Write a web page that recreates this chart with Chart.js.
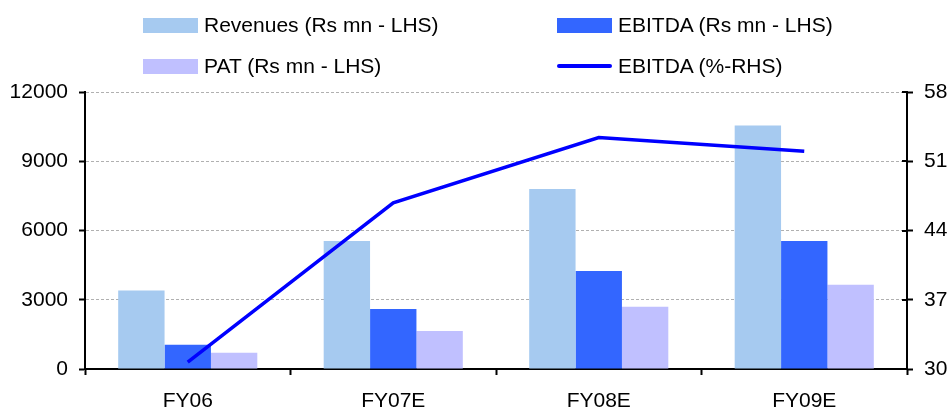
<!DOCTYPE html>
<html>
<head>
<meta charset="utf-8">
<script src="https://cdn.jsdelivr.net/npm/chart.js@4/dist/chart.umd.min.js"></script>
<style>
  html, body { margin: 0; padding: 0; background: #fff; }
  #wrap { position: relative; width: 949px; height: 410px; font-family: "Liberation Sans", Arial, sans-serif; }
  #c { position: absolute; left: 0; top: 0; }
  .lg { position: absolute; display: flex; align-items: center; height: 24px; font-size: 21px; color: #000; white-space: nowrap; }
  .lg .sw { width: 55px; margin-right: 6px; }
</style>
</head>
<body>
<div id="wrap">
  <canvas id="c" width="949" height="410"></canvas>
  <div id="legend"></div>
</div>
<script>
// Financial summary, FY06 to FY09E
const categories = ['FY06', 'FY07E', 'FY08E', 'FY09E'];
const revenues = [3400, 5550, 7800, 10550];     // Rs mn
const ebitda = [1050, 2600, 4250, 5550];        // Rs mn
const pat = [700, 1650, 2700, 3650];            // Rs mn
const ebitdaMargin = [30.7, 46.8, 53.4, 52.0];  // %
const leftTicks = [0, 3000, 6000, 9000, 12000];
const rightTicks = [30, 37, 44, 51, 58];

const FONT = { family: '"Liberation Sans", Arial, sans-serif', size: 21 };
const plain = v => String(v);

// Short inward tick marks on the right axis (the library draws the outward half)
const innerTicks = {
  id: 'innerTicks',
  afterDraw(chart) {
    const s = chart.scales.y2;
    const ctx = chart.ctx;
    ctx.save();
    ctx.strokeStyle = '#000';
    ctx.lineWidth = 2;
    s.ticks.forEach(t => {
      const y = Math.round(s.getPixelForValue(t.value));
      ctx.beginPath();
      ctx.moveTo(s.left - 5, y);
      ctx.lineTo(s.left, y);
      ctx.stroke();
    });
    ctx.restore();
  }
};

const chart = new Chart(document.getElementById('c'), {
  type: 'bar',
  data: {
    labels: categories,
    datasets: [
      { label: 'Revenues (Rs mn - LHS)', data: revenues, backgroundColor: '#A6CAF0', yAxisID: 'y', order: 1 },
      { label: 'EBITDA (Rs mn - LHS)', data: ebitda, backgroundColor: '#3366FF', yAxisID: 'y', order: 1 },
      { label: 'PAT (Rs mn - LHS)', data: pat, backgroundColor: '#C0C0FF', yAxisID: 'y', order: 1 },
      { type: 'line', label: 'EBITDA (%-RHS)', data: ebitdaMargin, borderColor: '#0000FF', backgroundColor: '#0000FF',
        borderWidth: 3.5, pointRadius: 0, tension: 0, fill: false, yAxisID: 'y2', order: 0 }
    ]
  },
  options: {
    responsive: false,
    animation: false,
    events: [],
    layout: { padding: { top: 92, left: 0, right: 0, bottom: 0 } },
    datasets: { bar: { categoryPercentage: 0.677, barPercentage: 1.0 } },
    plugins: { legend: { display: false }, tooltip: { enabled: false } },
    scales: {
      x: {
        grid: { offset: true, drawOnChartArea: false, tickLength: 6, tickColor: '#000', tickWidth: 2 },
        border: { color: '#000', width: 2 },
        ticks: { font: FONT, color: '#000', padding: 14, maxRotation: 0 },
        afterFit: s => { s.height = 41; }
      },
      y: {
        position: 'left',
        min: 0, max: 12000,
        afterBuildTicks: s => { s.ticks = leftTicks.map(v => ({ value: v })); },
        grid: {
          color: c => (c.tick && c.tick.value === 0) ? 'rgba(0,0,0,0)' : '#b0b0b0',
          lineWidth: 1, tickLength: 6, tickColor: '#000', tickWidth: 2
        },
        border: { color: '#000', width: 2, dash: [3, 2] },
        ticks: { font: FONT, color: '#000', padding: 11, callback: plain },
        afterFit: s => { s.width = 85; }
      },
      y2: {
        position: 'right',
        min: 30, max: 58,
        afterBuildTicks: s => { s.ticks = rightTicks.map(v => ({ value: v })); },
        grid: { drawOnChartArea: false, tickLength: 6, tickColor: '#000', tickWidth: 2 },
        border: { color: '#000', width: 2 },
        ticks: { font: FONT, color: '#000', padding: 11, callback: plain },
        afterFit: s => { s.width = 42; }
      }
    }
  },
  plugins: [innerTicks]
});

// Two-column legend above the plot
const legendSlots = [
  { left: 143, top: 13 }, { left: 557, top: 13 },
  { left: 143, top: 54 }, { left: 557, top: 54 }
];
const legendEl = document.getElementById('legend');
chart.data.datasets.forEach((ds, i) => {
  const item = document.createElement('div');
  item.className = 'lg';
  item.style.left = legendSlots[i].left + 'px';
  item.style.top = legendSlots[i].top + 'px';
  const sw = document.createElement('span');
  sw.className = 'sw';
  if (ds.type === 'line') {
    sw.style.height = '4px';
    sw.style.borderRadius = '2px';
    sw.style.background = ds.borderColor;
  } else {
    sw.style.height = '15px';
    sw.style.background = ds.backgroundColor;
  }
  const tx = document.createElement('span');
  tx.textContent = ds.label;
  item.appendChild(sw);
  item.appendChild(tx);
  legendEl.appendChild(item);
});
</script>
</body>
</html>
